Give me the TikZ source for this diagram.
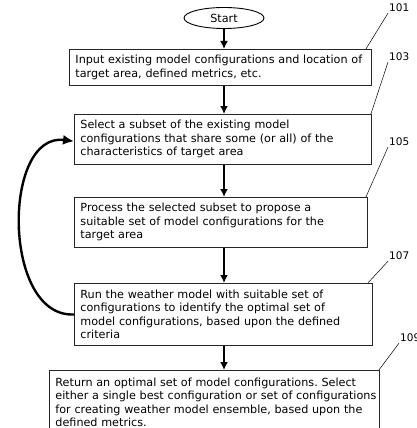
\documentclass[tikz,border=0pt]{standalone}
\usepackage{fontspec}
\setmainfont{DejaVu Sans}
\usepackage{tikz}
\usetikzlibrary{arrows.meta,positioning,shapes.geometric}
\frenchspacing

\begin{document}
\begin{tikzpicture}[x=1pt,y=-1pt]
    \tikzset{
      stepbox/.style={draw=black!85,line width=0.9pt,anchor=north west,align=left,inner sep=6pt,font=\fontsize{11.2}{13.4}\selectfont},
      terminal/.style={ellipse,draw=black,line width=0.9pt,minimum width=80pt,minimum height=21pt,inner sep=0pt,font=\fontsize{11.2}{13}\selectfont},
      reflabel/.style={anchor=west,inner sep=1pt,font=\fontsize{10.5}{12}\selectfont},
      arrow/.style={-{Latex[length=8pt,width=8pt]},draw=black,line width=2.4pt},
      loop/.style={-{Latex[length=11pt,width=10pt]},draw=black,line width=2.4pt},
      leader/.style={draw=black,line width=0.5pt}
    }
    \useasboundingbox (0,0) rectangle (416,428);
    \node[terminal] (start) at (224,18) {Start};
    \node[stepbox,text width=290pt,minimum height=35pt] (input) at (69,49) {Input existing model configurations and location of\\target area, defined metrics, etc.};
    \node[stepbox,text width=285pt,minimum height=46pt] (subset) at (74,114) {Select a subset of the existing model\\configurations that share some (or all) of the\\characteristics of target area};
    \node[stepbox,text width=281pt,minimum height=46pt] (process) at (74,197) {Process the selected subset to propose a\\suitable set of model configurations for the\\target area};
    \node[stepbox,text width=286pt,minimum height=62pt] (run) at (74,283) {Run the weather model with suitable set of\\configurations to identify the optimal set of\\model configurations, based upon the defined\\criteria};
    \node[stepbox,text width=326pt,inner xsep=2pt,inner ysep=5pt,minimum height=64pt] (result) at (49,370) {\hspace*{4pt}Return an optimal set of model configurations. Select\\\hspace*{4pt}either a single best configuration or set of configurations\\\hspace*{4pt}for creating weather model ensemble, based upon the\\\hspace*{4pt}defined metrics.};
    % reference numerals
    \node[reflabel] (l101) at (388,8) {101};
    \node[reflabel] (l103) at (388,57) {103};
    \node[reflabel] (l105) at (388,142) {105};
    \node[reflabel] (l107) at (388,256) {107};
    \node[reflabel] (l109) at (399,338) {109};
    \draw[leader] ([xshift=-6pt]input.north east) -- (l101.south west);
    \draw[leader] ([xshift=-1pt]subset.north east) -- (l103.south west);
    \draw[leader] ([xshift=-2pt]process.north east) -- (l105.south west);
    \draw[leader] ([xshift=-5pt]run.north east) -- (l107.south west);
    \draw[leader] ([xshift=-1pt]result.north east) -- (l109.south west);
    % flow
    \draw[arrow] (start.south) -- (start.south |- input.north);
    \draw[arrow] (input.south -| start) -- (subset.north -| start);
    \draw[arrow] (subset.south -| start) -- (process.north -| start);
    \draw[arrow] (process.south -| start) -- (run.north -| start);
    \draw[arrow] (run.south -| start) -- (result.north -| start);
    \draw[loop] (run.west) .. controls (2,318) and (2,132) .. ([yshift=-2pt]subset.west);
  \end{tikzpicture}
\end{document}
